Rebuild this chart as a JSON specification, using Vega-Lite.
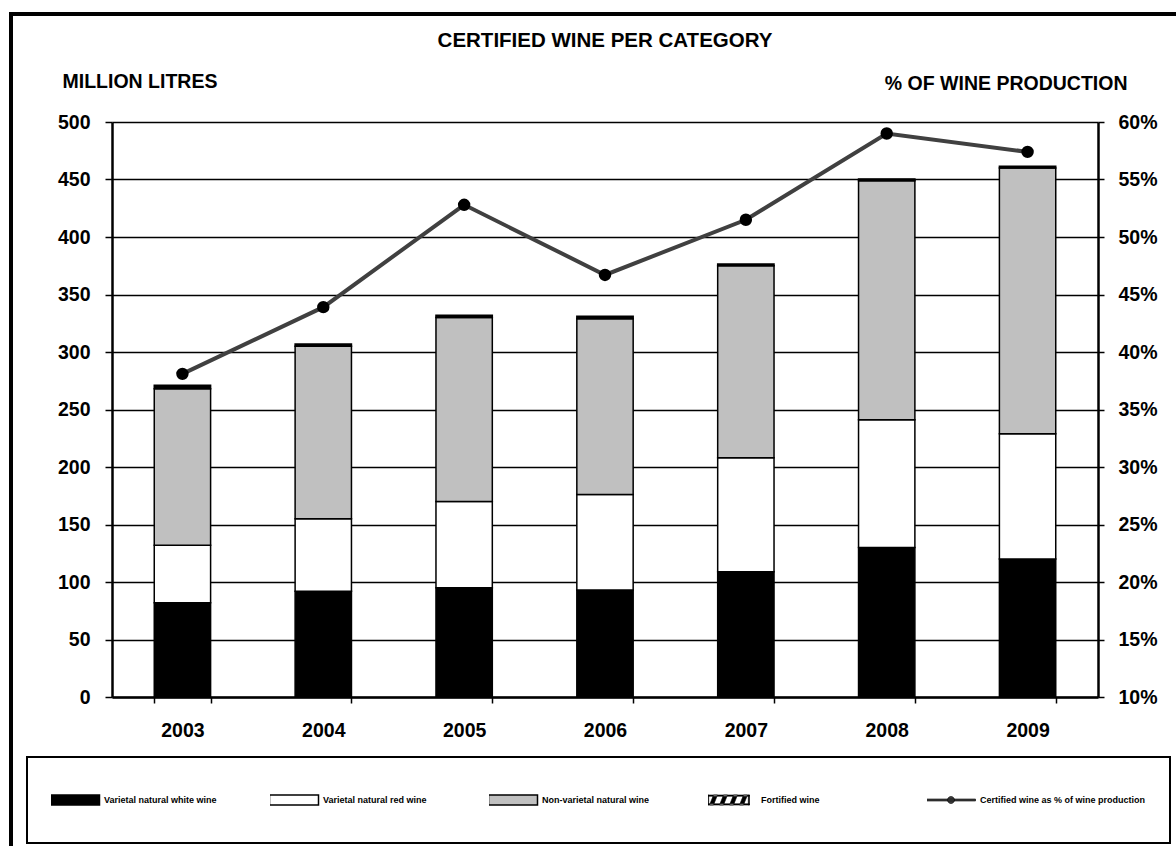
{
  "$schema": "https://vega.github.io/schema/vega-lite/v6.json",
  "width": 986,
  "height": 575,
  "autosize": "none",
  "padding": {"left": 112, "top": 122, "right": 78, "bottom": 149},
  "background": "white",
  "config": {
    "font": "Liberation Sans",
    "view": {"stroke": null}
  },
  "title": {
    "text": "CERTIFIED WINE PER CATEGORY",
    "frame": "group",
    "anchor": "middle",
    "offset": -39,
    "font": "Liberation Sans",
    "fontSize": 20.5,
    "fontWeight": "bold",
    "color": "black"
  },
  "datasets": {
    "volumes": [
      {"year": "2003", "category": "Varietal natural white wine", "million_litres": 82},
      {"year": "2003", "category": "Varietal natural red wine", "million_litres": 50},
      {"year": "2003", "category": "Non-varietal natural wine", "million_litres": 136},
      {"year": "2003", "category": "Fortified wine", "million_litres": 3},
      {"year": "2004", "category": "Varietal natural white wine", "million_litres": 92},
      {"year": "2004", "category": "Varietal natural red wine", "million_litres": 63},
      {"year": "2004", "category": "Non-varietal natural wine", "million_litres": 150},
      {"year": "2004", "category": "Fortified wine", "million_litres": 2},
      {"year": "2005", "category": "Varietal natural white wine", "million_litres": 95},
      {"year": "2005", "category": "Varietal natural red wine", "million_litres": 75},
      {"year": "2005", "category": "Non-varietal natural wine", "million_litres": 160},
      {"year": "2005", "category": "Fortified wine", "million_litres": 2},
      {"year": "2006", "category": "Varietal natural white wine", "million_litres": 93},
      {"year": "2006", "category": "Varietal natural red wine", "million_litres": 83},
      {"year": "2006", "category": "Non-varietal natural wine", "million_litres": 153},
      {"year": "2006", "category": "Fortified wine", "million_litres": 2},
      {"year": "2007", "category": "Varietal natural white wine", "million_litres": 109},
      {"year": "2007", "category": "Varietal natural red wine", "million_litres": 99},
      {"year": "2007", "category": "Non-varietal natural wine", "million_litres": 167},
      {"year": "2007", "category": "Fortified wine", "million_litres": 1.5},
      {"year": "2008", "category": "Varietal natural white wine", "million_litres": 130},
      {"year": "2008", "category": "Varietal natural red wine", "million_litres": 111},
      {"year": "2008", "category": "Non-varietal natural wine", "million_litres": 208},
      {"year": "2008", "category": "Fortified wine", "million_litres": 1.5},
      {"year": "2009", "category": "Varietal natural white wine", "million_litres": 120},
      {"year": "2009", "category": "Varietal natural red wine", "million_litres": 109},
      {"year": "2009", "category": "Non-varietal natural wine", "million_litres": 231},
      {"year": "2009", "category": "Fortified wine", "million_litres": 1.5}
    ],
    "share": [
      {"year": "2003", "percent": 38.1},
      {"year": "2004", "percent": 43.9},
      {"year": "2005", "percent": 52.8},
      {"year": "2006", "percent": 46.7},
      {"year": "2007", "percent": 51.5},
      {"year": "2008", "percent": 59.0},
      {"year": "2009", "percent": 57.4}
    ]
  },
  "layer": [
    {
      "data": {"name": "volumes"},
      "mark": {"type": "bar", "stroke": "black", "strokeWidth": 1.5},
      "encoding": {
        "x": {
          "field": "year",
          "type": "ordinal",
          "scale": {"paddingInner": 0.6, "paddingOuter": 0.3},
          "axis": {
            "title": null,
            "tickBand": "extent",
            "labelAngle": 0,
            "domainColor": "black",
            "domainWidth": 2.5,
            "tickColor": "black",
            "tickWidth": 1.5,
            "tickSize": 6,
            "labelPadding": 18,
            "labelFont": "Liberation Sans",
            "labelFontSize": 19.5,
            "labelFontWeight": "bold",
            "labelColor": "black",
            "grid": false
          }
        },
        "y": {
          "field": "million_litres",
          "type": "quantitative",
          "stack": "zero",
          "scale": {"domain": [0, 500], "nice": false},
          "axis": {
            "title": "MILLION LITRES",
            "titleAngle": 0,
            "titleX": -50,
            "titleY": -41,
            "titleAlign": "left",
            "titleBaseline": "middle",
            "titleFont": "Liberation Sans",
            "titleFontSize": 19.5,
            "titleFontWeight": "bold",
            "titleColor": "black",
            "values": [0, 50, 100, 150, 200, 250, 300, 350, 400, 450, 500],
            "grid": true,
            "gridColor": "black",
            "gridWidth": 1.5,
            "gridOpacity": 1,
            "domainColor": "black",
            "domainWidth": 2.5,
            "tickColor": "black",
            "tickWidth": 1.5,
            "tickSize": 7,
            "labelPadding": 15,
            "labelFont": "Liberation Sans",
            "labelFontSize": 19.5,
            "labelFontWeight": "bold",
            "labelColor": "black"
          }
        },
        "fill": {
          "field": "category",
          "type": "nominal",
          "sort": ["Varietal natural white wine", "Varietal natural red wine", "Non-varietal natural wine", "Fortified wine"],
          "scale": {
            "domain": ["Varietal natural white wine", "Varietal natural red wine", "Non-varietal natural wine", "Fortified wine", "Certified wine as % of wine production"],
            "range": ["black", "white", "#c0c0c0", "black", "#404040"]
          },
          "legend": {
            "orient": "none",
            "legendX": -85,
            "legendY": 635,
            "direction": "horizontal",
            "columns": 5,
            "gridAlign": "all",
            "columnPadding": 0,
            "padding": 24,
            "clipHeight": 38,
            "strokeColor": "black",
            "fillColor": "white",
            "title": null,
            "symbolStrokeColor": "black",
            "symbolStrokeWidth": 1.5,
            "labelOffset": 44,
            "labelFont": "Liberation Sans",
            "labelFontSize": 9,
            "labelFontWeight": "bold",
            "labelColor": "black",
            "labelLimit": 300,
            "encode": {
              "legend": {"update": {"strokeWidth": {"value": 2}}},
              "symbols": {
                "update": {
                  "shape": {"signal": "datum.value === 'Fortified wine' ? 'M-1,-1H7.4V-0.76H-1Z M-1,0.76H7.4V1H-1Z M-1,-1H-0.76V1H-1Z M7.16,-1H7.4V1H7.16Z M-0.6,1L0.2,1L1,-1L0.2,-1Z M1.4,1L2.2,1L3,-1L2.2,-1Z M3.4,1L4.2,1L5,-1L4.2,-1Z M5.4,1L6.2,1L7,-1L6.2,-1Z' : datum.value === 'Certified wine as % of wine production' ? 'M-1,-0.2H8.8V0.2H-1Z M3.2,0A0.7,0.7 0 1,1 4.6,0A0.7,0.7 0 1,1 3.2,0Z' : 'M-1,-1H8.8V1H-1Z'"},
                  "strokeWidth": {"signal": "datum.value === 'Fortified wine' || datum.value === 'Certified wine as % of wine production' ? 0.6 : 1.5"}
                }
              }
            }
          }
        }
      }
    },
    {
      "data": {"name": "share"},
      "layer": [
        {
          "mark": {"type": "line", "strokeWidth": 4, "color": "#404040"},
          "encoding": {
            "x": {"field": "year", "type": "ordinal"},
            "y": {
              "field": "percent",
              "type": "quantitative",
              "scale": {"domain": [10, 60], "nice": false},
              "axis": {
                "orient": "right",
                "title": "% OF WINE PRODUCTION",
                "titleAngle": 0,
                "titleX": 29,
                "titleY": -39,
                "titleAlign": "right",
                "titleBaseline": "middle",
                "titleFont": "Liberation Sans",
                "titleFontSize": 19.5,
                "titleFontWeight": "bold",
                "titleColor": "black",
                "values": [10, 15, 20, 25, 30, 35, 40, 45, 50, 55, 60],
                "labelExpr": "datum.value + '%'",
                "grid": false,
                "domainColor": "black",
                "domainWidth": 2.5,
                "tickColor": "black",
                "tickWidth": 1.5,
                "tickSize": 6,
                "labelPadding": 14,
                "labelFont": "Liberation Sans",
                "labelFontSize": 19.5,
                "labelFontWeight": "bold",
                "labelColor": "black"
              }
            }
          }
        },
        {
          "mark": {"type": "point", "filled": true, "size": 154, "opacity": 1},
          "encoding": {
            "x": {"field": "year", "type": "ordinal"},
            "y": {"field": "percent", "type": "quantitative"},
            "color": {
              "field": "percent",
              "type": "quantitative",
              "scale": {"range": ["black", "black"]},
              "legend": {
                "orient": "none",
                "legendX": -101,
                "legendY": -108,
                "direction": "horizontal",
                "gradientLength": 1180,
                "gradientThickness": 842,
                "gradientOpacity": 0,
                "padding": 0,
                "labelExpr": "''",
                "labelOpacity": 0,
                "tickCount": 2,
                "title": null,
                "strokeColor": "black",
                "gradientStrokeWidth": 0,
                "encode": {
                  "legend": {"update": {"strokeWidth": {"value": 4}}},
                  "gradient": {"update": {"opacity": {"value": 0}, "fillOpacity": {"value": 0}, "fill": {"value": "transparent"}}}
                }
              }
            }
          }
        }
      ]
    }
  ],
  "resolve": {"scale": {"y": "independent"}}
}
